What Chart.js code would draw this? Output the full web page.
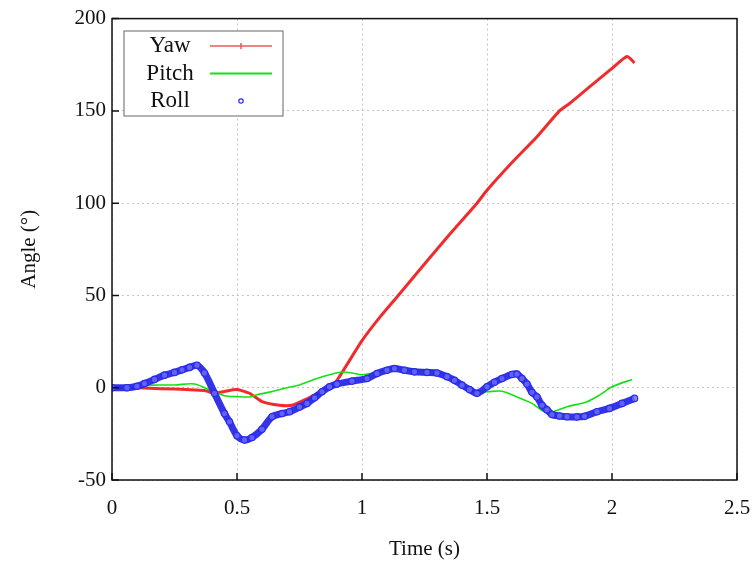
<!DOCTYPE html>
<html lang="en">
<head>
    <meta charset="UTF-8">
    <title>Angle vs Time</title>
    <script src="https://cdn.jsdelivr.net/npm/chart.js"></script>
    <style>
        html, body { margin: 0; padding: 0; background: #fff; }
        #wrap { width: 756px; height: 567px; }
    </style>
</head>
<body>
    <div id="wrap"><canvas id="angleChart"></canvas></div>

    <script>
        // yaw / pitch / roll angles (deg) against time (s)
        const yawTime = [0, 0.1, 0.2, 0.3, 0.37, 0.41, 0.45, 0.5, 0.55, 0.6, 0.67, 0.72, 0.78, 0.83, 0.87, 0.9,
            1.0, 1.07, 1.145, 1.25, 1.35, 1.46, 1.5, 1.6, 1.7, 1.79, 1.83, 1.91, 2.0, 2.06, 2.09];
        const yawAngle = [0, 0, -0.5, -1, -1.5, -3, -2, -1, -3, -7.5, -9.5, -9.5, -6, -2.5, 0, 4,
            25.5, 38, 50, 67, 83, 100, 107, 122, 136, 150, 154, 163, 173, 179.5, 176];

        const pitchTime = [0, 0.1, 0.16, 0.25, 0.33, 0.4, 0.45, 0.5, 0.55, 0.58, 0.63, 0.7, 0.75, 0.82, 0.87, 0.92,
            0.96, 1.0, 1.06, 1.13, 1.21, 1.3, 1.34, 1.4, 1.46, 1.5, 1.56, 1.62, 1.68, 1.74, 1.82, 1.9, 1.95, 2.0, 2.08];
        const pitchAngle = [0, 0.5, 1.4, 1.5, 2, -1.8, -4.3, -4.8, -5, -3.8, -2.4, 0, 1.5, 5, 7, 8.5,
            8, 7, 8.5, 11, 9.8, 9, 6.5, 2, -2.2, -2.2, -1.9, -5, -8.5, -13.6, -10.3, -7.6, -4, 0.5, 4.5];

        const rollTime = [0, 0.06, 0.1, 0.13, 0.17, 0.21, 0.25, 0.28, 0.31, 0.34, 0.37, 0.41, 0.45, 0.47, 0.5, 0.53,
            0.56, 0.6, 0.64, 0.68, 0.71, 0.75, 0.78, 0.81, 0.84, 0.87, 0.9, 0.96, 1.02, 1.06, 1.1, 1.13, 1.17, 1.21,
            1.26, 1.3, 1.34, 1.37, 1.4, 1.43, 1.46, 1.5, 1.53, 1.56, 1.6, 1.62, 1.64, 1.66, 1.68, 1.7, 1.72, 1.74,
            1.76, 1.79, 1.82, 1.86, 1.89, 1.94, 1.99, 2.04, 2.09];
        const rollAngle = [0, 0, 0.8, 2.3, 4.5, 6.8, 8.3, 9.7, 11, 12.2, 8, -3, -14, -18.5, -26, -28.3,
            -27, -22.5, -15.7, -14, -13, -10.5, -8.5, -5.5, -2.2, 0.5, 2, 3.6, 5, 7.7, 9.5, 10.4, 9.5, 8.6,
            8.3, 8, 6, 4, 1.4, -1, -3, 0.5, 3, 5, 7.2, 7.4, 5, 2, -2.5, -5, -9.5, -12,
            -14.5, -15.3, -15.7, -15.8, -15.5, -13, -11.2, -8.5, -5.8];

        const xTicks = [0, 0.5, 1, 1.5, 2, 2.5];
        const yTicks = [-50, 0, 50, 100, 150, 200];

        const serif = '"Liberation Serif", "DejaVu Serif", serif';

        function toPoints(ts, vs) {
            return ts.map((t, i) => ({ x: t, y: vs[i] }));
        }

        // box around the plot, inward ticks and the key in the top-left corner
        const framePlugin = {
            id: 'framePlugin',
            afterDraw(chart) {
                const { ctx, scales } = chart;
                const left = scales.x.getPixelForValue(0), right = scales.x.getPixelForValue(2.5);
                const top = scales.y.getPixelForValue(200), bottom = scales.y.getPixelForValue(-50);
                ctx.save();

                ctx.strokeStyle = '#111';
                ctx.lineWidth = 1.5;
                ctx.beginPath();
                xTicks.forEach(v => {
                    const px = scales.x.getPixelForValue(v);
                    ctx.moveTo(px, bottom); ctx.lineTo(px, bottom - 7);
                });
                yTicks.forEach(v => {
                    const py = scales.y.getPixelForValue(v);
                    ctx.moveTo(left, py); ctx.lineTo(left + 7, py);
                });
                ctx.stroke();
                ctx.strokeRect(left, top, right - left, bottom - top);

                // key
                const bx = 124, by = 31, bw = 159, bh = 85;
                ctx.fillStyle = '#fff';
                ctx.fillRect(bx, by, bw, bh);
                ctx.strokeStyle = '#666';
                ctx.lineWidth = 1;
                ctx.strokeRect(bx, by, bw, bh);

                ctx.font = '23px ' + serif;
                ctx.textAlign = 'center';
                ctx.textBaseline = 'middle';
                chart.data.datasets.forEach((ds, i) => {
                    const cy = by + 15 + i * 27.5;
                    ctx.fillStyle = '#111';
                    ctx.fillText(ds.label, 170, cy);
                    if (ds.label === 'Roll') {
                        ctx.strokeStyle = ds.pointBorderColor;
                        ctx.lineWidth = 1.2;
                        ctx.beginPath();
                        ctx.arc(241, cy, 2.2, 0, Math.PI * 2);
                        ctx.stroke();
                    } else {
                        ctx.strokeStyle = ds.label === 'Yaw' ? 'rgba(235,60,60,0.85)' : ds.borderColor;
                        ctx.lineWidth = ds.label === 'Yaw' ? 1.5 : 2;
                        ctx.beginPath();
                        ctx.moveTo(210, cy); ctx.lineTo(272, cy);
                        if (ds.label === 'Yaw') { ctx.moveTo(241, cy - 3); ctx.lineTo(241, cy + 3); }
                        ctx.stroke();
                    }
                });

                ctx.restore();
            }
        };

        const config = {
            type: 'line',
            data: {
                datasets: [
                    {
                        label: 'Yaw',
                        data: toPoints(yawTime, yawAngle),
                        borderColor: 'rgba(240,20,20,0.9)',
                        borderWidth: 3,
                        pointRadius: 0,
                        tension: 0.2,
                        order: 3
                    },
                    {
                        label: 'Pitch',
                        data: toPoints(pitchTime, pitchAngle),
                        borderColor: '#14e014',
                        borderWidth: 1.6,
                        pointRadius: 0,
                        tension: 0.3,
                        order: 2
                    },
                    {
                        label: 'Roll',
                        data: toPoints(rollTime, rollAngle),
                        borderColor: 'rgba(40,40,230,0.95)',
                        borderWidth: 7,
                        pointRadius: 3.2,
                        pointBorderWidth: 1.2,
                        pointBorderColor: '#2a2af0',
                        pointBackgroundColor: 'rgba(110,110,245,0.8)',
                        tension: 0.3,
                        order: 1
                    }
                ]
            },
            options: {
                responsive: true,
                maintainAspectRatio: false,
                animation: false,
                layout: { padding: { top: 18, right: 0, left: 0, bottom: 0 } },
                plugins: {
                    legend: { display: false },
                    tooltip: { enabled: false }
                },
                scales: {
                    x: {
                        type: 'linear',
                        min: 0,
                        max: 2.5,
                        afterFit: s => { s.height = 87; s.paddingLeft = 0; s.paddingRight = 19; },
                        afterBuildTicks: s => { s.ticks = xTicks.map(v => ({ value: v })); },
                        ticks: {
                            padding: 16,
                            color: '#111',
                            font: { family: serif, size: 21 },
                            callback: v => String(v)
                        },
                        grid: { color: '#c4c4c4', drawTicks: false },
                        border: { display: false, dash: [2, 3] },
                        title: {
                            display: true,
                            text: 'Time (s)',
                            color: '#111',
                            font: { family: serif, size: 21 },
                            padding: { top: 0, bottom: 5 }
                        }
                    },
                    y: {
                        min: -50,
                        max: 200,
                        afterFit: s => { s.width = 112; },
                        afterBuildTicks: s => { s.ticks = yTicks.map(v => ({ value: v })); },
                        ticks: {
                            padding: 6,
                            color: '#111',
                            font: { family: serif, size: 21 },
                            callback: v => String(v)
                        },
                        grid: { color: '#c4c4c4', drawTicks: false },
                        border: { display: false, dash: [2, 3] },
                        title: {
                            display: true,
                            text: 'Angle (°)',
                            color: '#111',
                            font: { family: serif, size: 21 },
                            padding: { top: 17, bottom: 0 }
                        }
                    }
                }
            },
            plugins: [framePlugin]
        };

        new Chart(document.getElementById('angleChart').getContext('2d'), config);
    </script>
</body>
</html>
